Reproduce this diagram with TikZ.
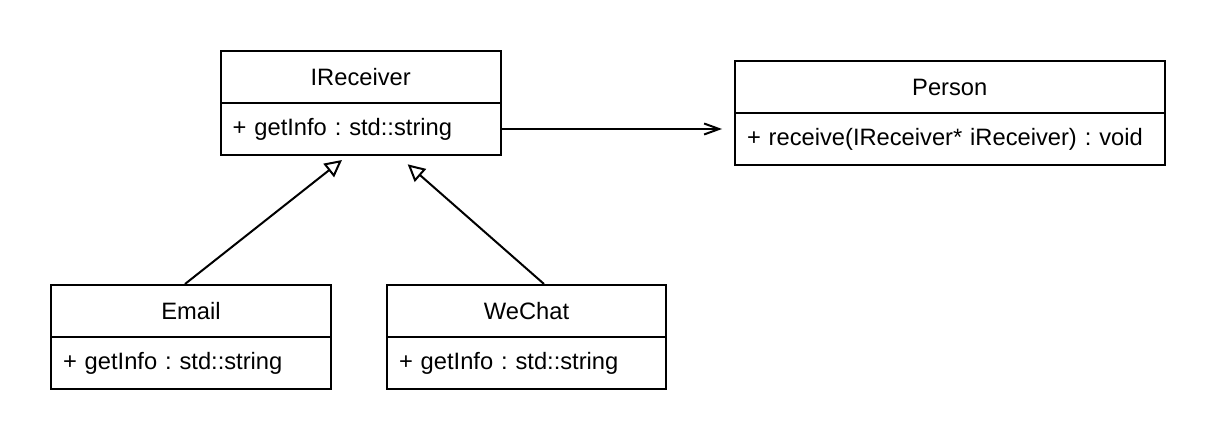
\documentclass[tikz,border=0pt]{standalone}
\usepackage{fontspec}
\setmainfont{Liberation Sans}
\usetikzlibrary{arrows.meta,calc}
\frenchspacing
\begin{document}
\begin{tikzpicture}[x=1pt,y=-1pt,
  box/.style={draw, line width=2pt, rectangle, inner sep=0pt, minimum height=52pt,
              fill=white, font=\fontsize{23.7}{28}\selectfont\frenchspacing},
  head/.style={box, minimum width=#1},
  attr/.style={box, text width=#1, inner xsep=12pt, align=left},
  conn/.style={line width=2pt},
  inherit/.style={conn, -{Triangle[fill=white, length=17pt, width=17pt]}},
  assoc/.style={conn, -{Straight Barb[length=15pt, width=11pt]}}]
\useasboundingbox (0,0) rectangle (1216,446);
\fill[white] (0,0) rectangle (1216,446);

% IReceiver
\node[head=280pt] (irech) at (360.7,77) {IReceiver};
\node[attr=256pt] (irec) at (360.7,129) {+ getInfo : std::string};

% Person
\node[head=429.5pt] (personh) at (949.75,87) {Person};
\node[attr=405.5pt] (person) at (949.75,139) {+ receive(IReceiver* iReceiver) : void};

% Email
\node[head=280pt] (emailh) at (191,311) {Email};
\node[attr=256pt] (email) at (191,363) {+ getInfo : std::string};

% WeChat
\node[head=279pt] (wechath) at (526.5,311) {WeChat};
\node[attr=255pt] (wechat) at (526.5,363) {+ getInfo : std::string};

% connectors
\coordinate (passoc) at ($(irec.east -| personh.west)+(-12,0)$);
\draw[assoc] (irec.east) -- (passoc);

\coordinate (etip) at ($(irec.south)+(-18.7,4)$);
\coordinate (estart) at ($(emailh.north)+(-6,0)$);
\draw[inherit] (estart) -- (etip);

\coordinate (wtip) at ($(irec.south)+(47,8.3)$);
\coordinate (wstart) at ($(wechath.north)+(17.5,0)$);
\draw[inherit] (wstart) -- (wtip);
\end{tikzpicture}
\end{document}
